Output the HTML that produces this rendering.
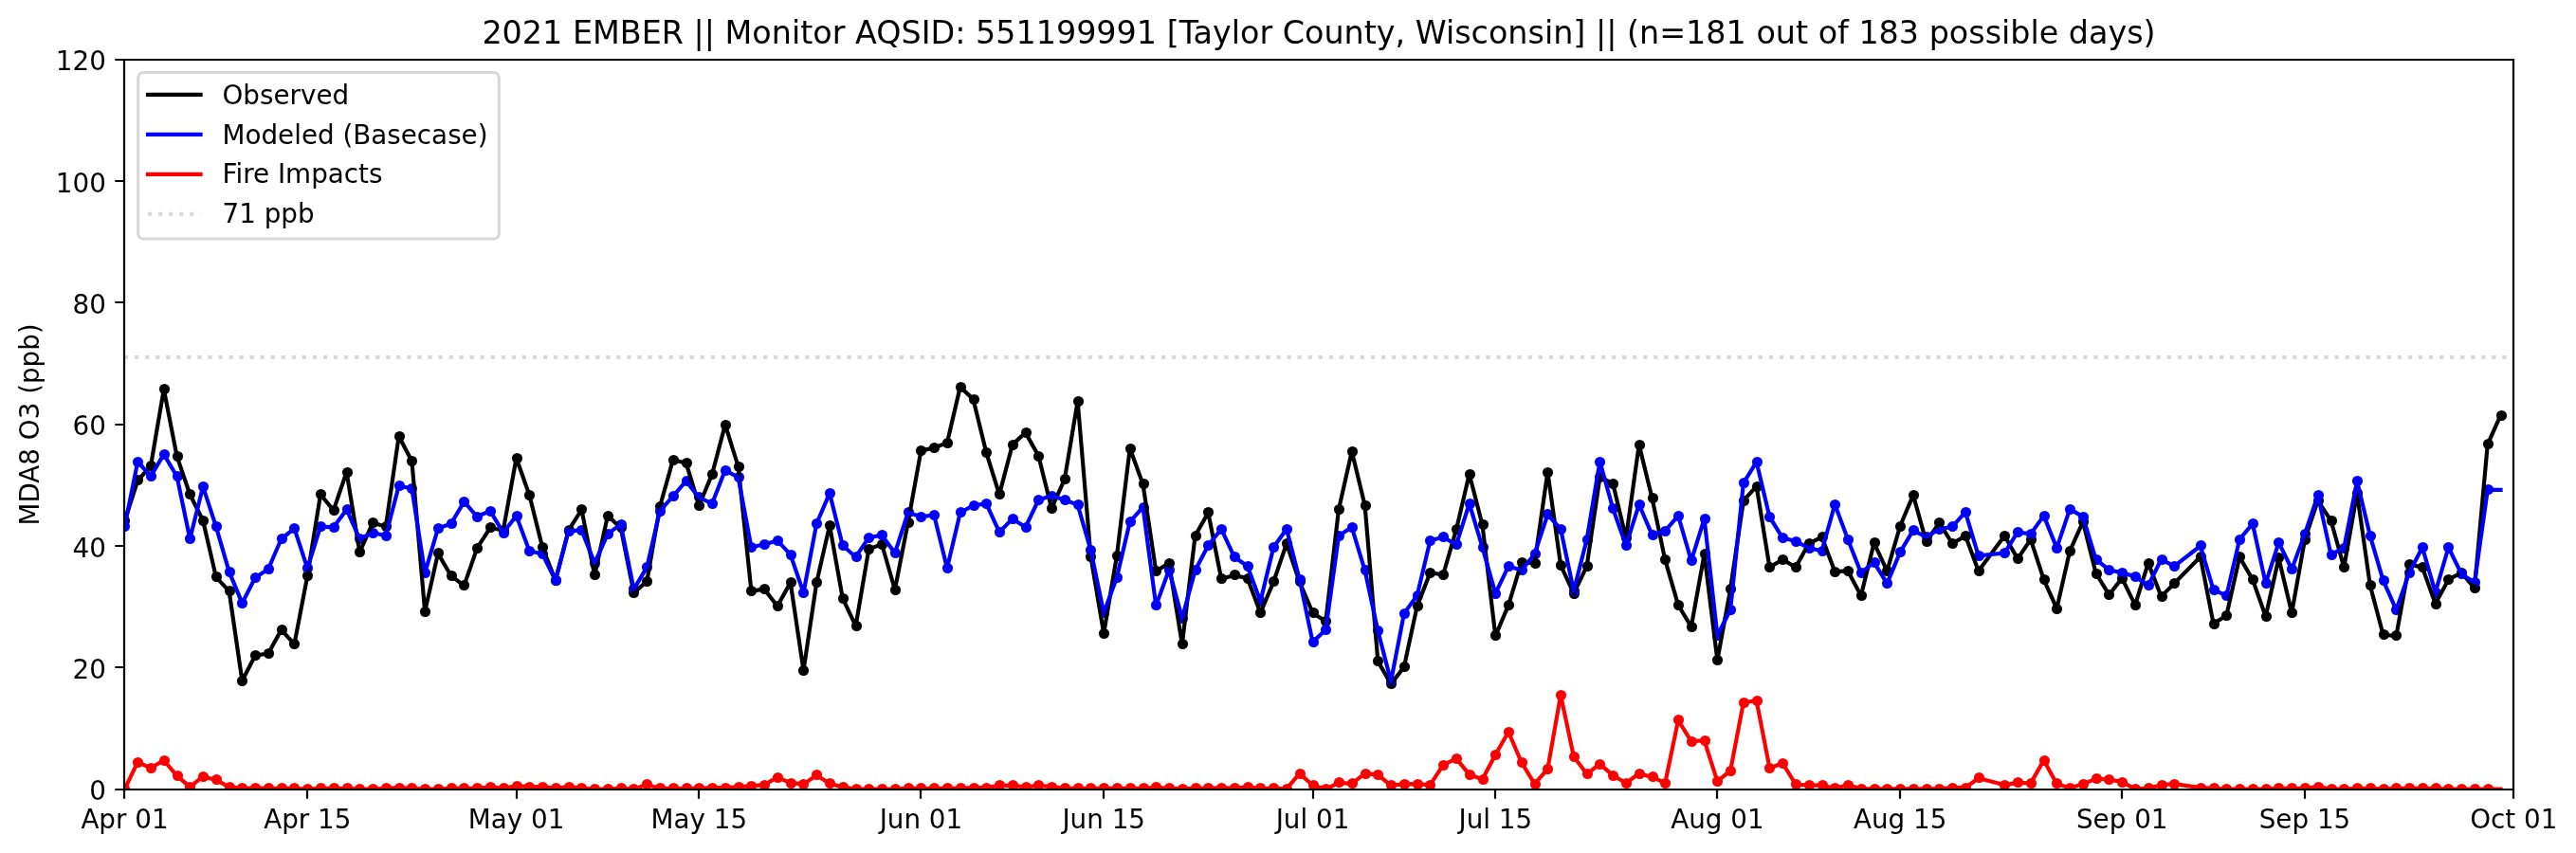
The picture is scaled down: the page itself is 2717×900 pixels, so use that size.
<!DOCTYPE html>
<html><head><meta charset="utf-8"><title>2021 EMBER Monitor 551199991</title>
<style>html,body{margin:0;padding:0;background:#fff;}svg{display:block;will-change:transform;}</style>
</head><body>
<svg width="2717" height="900" viewBox="0 0 2717 900">
<defs><clipPath id="c"><rect x="131" y="63" width="2520" height="770"/></clipPath></defs>
<rect width="2717" height="900" fill="#fff"/>
<g clip-path="url(#c)">
<g fill="#000">
<circle cx="131.5" cy="549.5" r="5.56"/><circle cx="145.5" cy="506.5" r="5.56"/><circle cx="159.5" cy="491.5" r="5.56"/><circle cx="173.5" cy="410.5" r="5.56"/><circle cx="187.5" cy="481.5" r="5.56"/><circle cx="200.5" cy="521.5" r="5.56"/><circle cx="214.5" cy="549.5" r="5.56"/><circle cx="228.5" cy="608.5" r="5.56"/><circle cx="242.5" cy="623.5" r="5.56"/><circle cx="255.5" cy="718.5" r="5.56"/><circle cx="269.5" cy="691.5" r="5.56"/><circle cx="283.5" cy="689.5" r="5.56"/><circle cx="297.5" cy="664.5" r="5.56"/><circle cx="310.5" cy="679.5" r="5.56"/><circle cx="324.5" cy="607.5" r="5.56"/><circle cx="338.5" cy="521.5" r="5.56"/><circle cx="352.5" cy="538.5" r="5.56"/><circle cx="366.5" cy="498.5" r="5.56"/><circle cx="379.5" cy="582.5" r="5.56"/><circle cx="393.5" cy="551.5" r="5.56"/><circle cx="407.5" cy="555.5" r="5.56"/><circle cx="421.5" cy="460.5" r="5.56"/><circle cx="434.5" cy="486.5" r="5.56"/><circle cx="448.5" cy="645.5" r="5.56"/><circle cx="462.5" cy="583.5" r="5.56"/><circle cx="476.5" cy="607.5" r="5.56"/><circle cx="489.5" cy="617.5" r="5.56"/><circle cx="503.5" cy="578.5" r="5.56"/><circle cx="517.5" cy="556.5" r="5.56"/><circle cx="531.5" cy="559.5" r="5.56"/><circle cx="545.5" cy="483.5" r="5.56"/><circle cx="558.5" cy="522.5" r="5.56"/><circle cx="572.5" cy="577.5" r="5.56"/><circle cx="586.5" cy="612.5" r="5.56"/><circle cx="600.5" cy="559.5" r="5.56"/><circle cx="613.5" cy="537.5" r="5.56"/><circle cx="627.5" cy="606.5" r="5.56"/><circle cx="641.5" cy="544.5" r="5.56"/><circle cx="655.5" cy="556.5" r="5.56"/><circle cx="668.5" cy="625.5" r="5.56"/><circle cx="682.5" cy="613.5" r="5.56"/><circle cx="696.5" cy="534.5" r="5.56"/><circle cx="710.5" cy="485.5" r="5.56"/><circle cx="724.5" cy="488.5" r="5.56"/><circle cx="737.5" cy="533.5" r="5.56"/><circle cx="751.5" cy="500.5" r="5.56"/><circle cx="765.5" cy="448.5" r="5.56"/><circle cx="779.5" cy="492.5" r="5.56"/><circle cx="792.5" cy="623.5" r="5.56"/><circle cx="806.5" cy="621.5" r="5.56"/><circle cx="820.5" cy="639.5" r="5.56"/><circle cx="834.5" cy="614.5" r="5.56"/><circle cx="847.5" cy="707.5" r="5.56"/><circle cx="861.5" cy="614.5" r="5.56"/><circle cx="875.5" cy="554.5" r="5.56"/><circle cx="889.5" cy="631.5" r="5.56"/><circle cx="903.5" cy="660.5" r="5.56"/><circle cx="916.5" cy="579.5" r="5.56"/><circle cx="930.5" cy="574.5" r="5.56"/><circle cx="944.5" cy="622.5" r="5.56"/><circle cx="958.5" cy="551.5" r="5.56"/><circle cx="971.5" cy="475.5" r="5.56"/><circle cx="985.5" cy="472.5" r="5.56"/><circle cx="999.5" cy="467.5" r="5.56"/><circle cx="1013.5" cy="408.5" r="5.56"/><circle cx="1027.5" cy="421.5" r="5.56"/><circle cx="1040.5" cy="477.5" r="5.56"/><circle cx="1054.5" cy="521.5" r="5.56"/><circle cx="1068.5" cy="469.5" r="5.56"/><circle cx="1082.5" cy="456.5" r="5.56"/><circle cx="1095.5" cy="481.5" r="5.56"/><circle cx="1109.5" cy="536.5" r="5.56"/><circle cx="1123.5" cy="505.5" r="5.56"/><circle cx="1137.5" cy="423.5" r="5.56"/><circle cx="1150.5" cy="587.5" r="5.56"/><circle cx="1164.5" cy="668.5" r="5.56"/><circle cx="1178.5" cy="586.5" r="5.56"/><circle cx="1192.5" cy="473.5" r="5.56"/><circle cx="1206.5" cy="510.5" r="5.56"/><circle cx="1219.5" cy="602.5" r="5.56"/><circle cx="1233.5" cy="594.5" r="5.56"/><circle cx="1247.5" cy="679.5" r="5.56"/><circle cx="1261.5" cy="565.5" r="5.56"/><circle cx="1274.5" cy="540.5" r="5.56"/><circle cx="1288.5" cy="610.5" r="5.56"/><circle cx="1302.5" cy="606.5" r="5.56"/><circle cx="1316.5" cy="610.5" r="5.56"/><circle cx="1329.5" cy="646.5" r="5.56"/><circle cx="1343.5" cy="613.5" r="5.56"/><circle cx="1357.5" cy="573.5" r="5.56"/><circle cx="1371.5" cy="613.5" r="5.56"/><circle cx="1385.5" cy="646.5" r="5.56"/><circle cx="1398.5" cy="655.5" r="5.56"/><circle cx="1412.5" cy="537.5" r="5.56"/><circle cx="1426.5" cy="476.5" r="5.56"/><circle cx="1440.5" cy="533.5" r="5.56"/><circle cx="1453.5" cy="697.5" r="5.56"/><circle cx="1467.5" cy="721.5" r="5.56"/><circle cx="1481.5" cy="703.5" r="5.56"/><circle cx="1495.5" cy="639.5" r="5.56"/><circle cx="1508.5" cy="604.5" r="5.56"/><circle cx="1522.5" cy="606.5" r="5.56"/><circle cx="1536.5" cy="558.5" r="5.56"/><circle cx="1550.5" cy="500.5" r="5.56"/><circle cx="1564.5" cy="553.5" r="5.56"/><circle cx="1577.5" cy="670.5" r="5.56"/><circle cx="1591.5" cy="638.5" r="5.56"/><circle cx="1605.5" cy="593.5" r="5.56"/><circle cx="1619.5" cy="594.5" r="5.56"/><circle cx="1632.5" cy="498.5" r="5.56"/><circle cx="1646.5" cy="596.5" r="5.56"/><circle cx="1660.5" cy="626.5" r="5.56"/><circle cx="1674.5" cy="597.5" r="5.56"/><circle cx="1687.5" cy="503.5" r="5.56"/><circle cx="1701.5" cy="510.5" r="5.56"/><circle cx="1715.5" cy="567.5" r="5.56"/><circle cx="1729.5" cy="469.5" r="5.56"/><circle cx="1743.5" cy="525.5" r="5.56"/><circle cx="1756.5" cy="590.5" r="5.56"/><circle cx="1770.5" cy="638.5" r="5.56"/><circle cx="1784.5" cy="661.5" r="5.56"/><circle cx="1798.5" cy="584.5" r="5.56"/><circle cx="1811.5" cy="696.5" r="5.56"/><circle cx="1825.5" cy="621.5" r="5.56"/><circle cx="1839.5" cy="528.5" r="5.56"/><circle cx="1853.5" cy="513.5" r="5.56"/><circle cx="1866.5" cy="598.5" r="5.56"/><circle cx="1880.5" cy="590.5" r="5.56"/><circle cx="1894.5" cy="598.5" r="5.56"/><circle cx="1908.5" cy="573.5" r="5.56"/><circle cx="1922.5" cy="566.5" r="5.56"/><circle cx="1935.5" cy="603.5" r="5.56"/><circle cx="1949.5" cy="602.5" r="5.56"/><circle cx="1963.5" cy="628.5" r="5.56"/><circle cx="1977.5" cy="572.5" r="5.56"/><circle cx="1990.5" cy="602.5" r="5.56"/><circle cx="2004.5" cy="555.5" r="5.56"/><circle cx="2018.5" cy="522.5" r="5.56"/><circle cx="2032.5" cy="571.5" r="5.56"/><circle cx="2045.5" cy="551.5" r="5.56"/><circle cx="2059.5" cy="573.5" r="5.56"/><circle cx="2073.5" cy="565.5" r="5.56"/><circle cx="2087.5" cy="602.5" r="5.56"/><circle cx="2114.5" cy="565.5" r="5.56"/><circle cx="2128.5" cy="589.5" r="5.56"/><circle cx="2142.5" cy="569.5" r="5.56"/><circle cx="2156.5" cy="611.5" r="5.56"/><circle cx="2169.5" cy="642.5" r="5.56"/><circle cx="2183.5" cy="581.5" r="5.56"/><circle cx="2197.5" cy="550.5" r="5.56"/><circle cx="2211.5" cy="605.5" r="5.56"/><circle cx="2224.5" cy="627.5" r="5.56"/><circle cx="2238.5" cy="610.5" r="5.56"/><circle cx="2252.5" cy="638.5" r="5.56"/><circle cx="2266.5" cy="594.5" r="5.56"/><circle cx="2280.5" cy="629.5" r="5.56"/><circle cx="2293.5" cy="615.5" r="5.56"/><circle cx="2321.5" cy="587.5" r="5.56"/><circle cx="2335.5" cy="658.5" r="5.56"/><circle cx="2348.5" cy="649.5" r="5.56"/><circle cx="2362.5" cy="587.5" r="5.56"/><circle cx="2376.5" cy="611.5" r="5.56"/><circle cx="2390.5" cy="650.5" r="5.56"/><circle cx="2403.5" cy="588.5" r="5.56"/><circle cx="2417.5" cy="646.5" r="5.56"/><circle cx="2431.5" cy="569.5" r="5.56"/><circle cx="2445.5" cy="528.5" r="5.56"/><circle cx="2459.5" cy="549.5" r="5.56"/><circle cx="2472.5" cy="598.5" r="5.56"/><circle cx="2486.5" cy="520.5" r="5.56"/><circle cx="2500.5" cy="617.5" r="5.56"/><circle cx="2514.5" cy="669.5" r="5.56"/><circle cx="2527.5" cy="670.5" r="5.56"/><circle cx="2541.5" cy="595.5" r="5.56"/><circle cx="2555.5" cy="598.5" r="5.56"/><circle cx="2569.5" cy="637.5" r="5.56"/><circle cx="2582.5" cy="611.5" r="5.56"/><circle cx="2596.5" cy="604.5" r="5.56"/><circle cx="2610.5" cy="620.5" r="5.56"/><circle cx="2624.5" cy="468.5" r="5.56"/><circle cx="2638.5" cy="438.5" r="5.56"/>
</g>
<g fill="#00f">
<circle cx="131.5" cy="555.5" r="5.56"/><circle cx="145.5" cy="487.5" r="5.56"/><circle cx="159.5" cy="502.5" r="5.56"/><circle cx="173.5" cy="479.5" r="5.56"/><circle cx="187.5" cy="502.5" r="5.56"/><circle cx="200.5" cy="568.5" r="5.56"/><circle cx="214.5" cy="513.5" r="5.56"/><circle cx="228.5" cy="555.5" r="5.56"/><circle cx="242.5" cy="603.5" r="5.56"/><circle cx="255.5" cy="636.5" r="5.56"/><circle cx="269.5" cy="609.5" r="5.56"/><circle cx="283.5" cy="600.5" r="5.56"/><circle cx="297.5" cy="568.5" r="5.56"/><circle cx="310.5" cy="557.5" r="5.56"/><circle cx="324.5" cy="599.5" r="5.56"/><circle cx="338.5" cy="555.5" r="5.56"/><circle cx="352.5" cy="556.5" r="5.56"/><circle cx="366.5" cy="537.5" r="5.56"/><circle cx="379.5" cy="568.5" r="5.56"/><circle cx="393.5" cy="562.5" r="5.56"/><circle cx="407.5" cy="565.5" r="5.56"/><circle cx="421.5" cy="512.5" r="5.56"/><circle cx="434.5" cy="515.5" r="5.56"/><circle cx="448.5" cy="604.5" r="5.56"/><circle cx="462.5" cy="557.5" r="5.56"/><circle cx="476.5" cy="552.5" r="5.56"/><circle cx="489.5" cy="529.5" r="5.56"/><circle cx="503.5" cy="545.5" r="5.56"/><circle cx="517.5" cy="539.5" r="5.56"/><circle cx="531.5" cy="562.5" r="5.56"/><circle cx="545.5" cy="544.5" r="5.56"/><circle cx="558.5" cy="581.5" r="5.56"/><circle cx="572.5" cy="584.5" r="5.56"/><circle cx="586.5" cy="612.5" r="5.56"/><circle cx="600.5" cy="560.5" r="5.56"/><circle cx="613.5" cy="559.5" r="5.56"/><circle cx="627.5" cy="594.5" r="5.56"/><circle cx="641.5" cy="563.5" r="5.56"/><circle cx="655.5" cy="553.5" r="5.56"/><circle cx="668.5" cy="621.5" r="5.56"/><circle cx="682.5" cy="598.5" r="5.56"/><circle cx="696.5" cy="539.5" r="5.56"/><circle cx="710.5" cy="523.5" r="5.56"/><circle cx="724.5" cy="507.5" r="5.56"/><circle cx="737.5" cy="524.5" r="5.56"/><circle cx="751.5" cy="531.5" r="5.56"/><circle cx="765.5" cy="496.5" r="5.56"/><circle cx="779.5" cy="503.5" r="5.56"/><circle cx="792.5" cy="577.5" r="5.56"/><circle cx="806.5" cy="574.5" r="5.56"/><circle cx="820.5" cy="570.5" r="5.56"/><circle cx="834.5" cy="585.5" r="5.56"/><circle cx="847.5" cy="625.5" r="5.56"/><circle cx="861.5" cy="552.5" r="5.56"/><circle cx="875.5" cy="520.5" r="5.56"/><circle cx="889.5" cy="575.5" r="5.56"/><circle cx="903.5" cy="587.5" r="5.56"/><circle cx="916.5" cy="567.5" r="5.56"/><circle cx="930.5" cy="564.5" r="5.56"/><circle cx="944.5" cy="583.5" r="5.56"/><circle cx="958.5" cy="540.5" r="5.56"/><circle cx="971.5" cy="545.5" r="5.56"/><circle cx="985.5" cy="543.5" r="5.56"/><circle cx="999.5" cy="599.5" r="5.56"/><circle cx="1013.5" cy="540.5" r="5.56"/><circle cx="1027.5" cy="533.5" r="5.56"/><circle cx="1040.5" cy="531.5" r="5.56"/><circle cx="1054.5" cy="561.5" r="5.56"/><circle cx="1068.5" cy="547.5" r="5.56"/><circle cx="1082.5" cy="556.5" r="5.56"/><circle cx="1095.5" cy="527.5" r="5.56"/><circle cx="1109.5" cy="523.5" r="5.56"/><circle cx="1123.5" cy="527.5" r="5.56"/><circle cx="1137.5" cy="532.5" r="5.56"/><circle cx="1150.5" cy="580.5" r="5.56"/><circle cx="1164.5" cy="646.5" r="5.56"/><circle cx="1178.5" cy="609.5" r="5.56"/><circle cx="1192.5" cy="550.5" r="5.56"/><circle cx="1206.5" cy="535.5" r="5.56"/><circle cx="1219.5" cy="638.5" r="5.56"/><circle cx="1233.5" cy="601.5" r="5.56"/><circle cx="1247.5" cy="652.5" r="5.56"/><circle cx="1261.5" cy="601.5" r="5.56"/><circle cx="1274.5" cy="575.5" r="5.56"/><circle cx="1288.5" cy="558.5" r="5.56"/><circle cx="1302.5" cy="587.5" r="5.56"/><circle cx="1316.5" cy="597.5" r="5.56"/><circle cx="1329.5" cy="634.5" r="5.56"/><circle cx="1343.5" cy="577.5" r="5.56"/><circle cx="1357.5" cy="558.5" r="5.56"/><circle cx="1371.5" cy="611.5" r="5.56"/><circle cx="1385.5" cy="677.5" r="5.56"/><circle cx="1398.5" cy="664.5" r="5.56"/><circle cx="1412.5" cy="565.5" r="5.56"/><circle cx="1426.5" cy="556.5" r="5.56"/><circle cx="1440.5" cy="601.5" r="5.56"/><circle cx="1453.5" cy="665.5" r="5.56"/><circle cx="1467.5" cy="718.5" r="5.56"/><circle cx="1481.5" cy="647.5" r="5.56"/><circle cx="1495.5" cy="628.5" r="5.56"/><circle cx="1508.5" cy="570.5" r="5.56"/><circle cx="1522.5" cy="566.5" r="5.56"/><circle cx="1536.5" cy="574.5" r="5.56"/><circle cx="1550.5" cy="531.5" r="5.56"/><circle cx="1564.5" cy="577.5" r="5.56"/><circle cx="1577.5" cy="626.5" r="5.56"/><circle cx="1591.5" cy="597.5" r="5.56"/><circle cx="1605.5" cy="601.5" r="5.56"/><circle cx="1619.5" cy="584.5" r="5.56"/><circle cx="1632.5" cy="542.5" r="5.56"/><circle cx="1646.5" cy="558.5" r="5.56"/><circle cx="1660.5" cy="623.5" r="5.56"/><circle cx="1674.5" cy="569.5" r="5.56"/><circle cx="1687.5" cy="487.5" r="5.56"/><circle cx="1701.5" cy="536.5" r="5.56"/><circle cx="1715.5" cy="575.5" r="5.56"/><circle cx="1729.5" cy="532.5" r="5.56"/><circle cx="1743.5" cy="564.5" r="5.56"/><circle cx="1756.5" cy="560.5" r="5.56"/><circle cx="1770.5" cy="544.5" r="5.56"/><circle cx="1784.5" cy="591.5" r="5.56"/><circle cx="1798.5" cy="547.5" r="5.56"/><circle cx="1811.5" cy="670.5" r="5.56"/><circle cx="1825.5" cy="643.5" r="5.56"/><circle cx="1839.5" cy="509.5" r="5.56"/><circle cx="1853.5" cy="487.5" r="5.56"/><circle cx="1866.5" cy="545.5" r="5.56"/><circle cx="1880.5" cy="567.5" r="5.56"/><circle cx="1894.5" cy="571.5" r="5.56"/><circle cx="1908.5" cy="578.5" r="5.56"/><circle cx="1922.5" cy="581.5" r="5.56"/><circle cx="1935.5" cy="532.5" r="5.56"/><circle cx="1949.5" cy="569.5" r="5.56"/><circle cx="1963.5" cy="604.5" r="5.56"/><circle cx="1977.5" cy="593.5" r="5.56"/><circle cx="1990.5" cy="615.5" r="5.56"/><circle cx="2004.5" cy="582.5" r="5.56"/><circle cx="2018.5" cy="559.5" r="5.56"/><circle cx="2032.5" cy="566.5" r="5.56"/><circle cx="2045.5" cy="558.5" r="5.56"/><circle cx="2059.5" cy="555.5" r="5.56"/><circle cx="2073.5" cy="540.5" r="5.56"/><circle cx="2087.5" cy="586.5" r="5.56"/><circle cx="2114.5" cy="583.5" r="5.56"/><circle cx="2128.5" cy="561.5" r="5.56"/><circle cx="2142.5" cy="563.5" r="5.56"/><circle cx="2156.5" cy="544.5" r="5.56"/><circle cx="2169.5" cy="578.5" r="5.56"/><circle cx="2183.5" cy="537.5" r="5.56"/><circle cx="2197.5" cy="545.5" r="5.56"/><circle cx="2211.5" cy="590.5" r="5.56"/><circle cx="2224.5" cy="601.5" r="5.56"/><circle cx="2238.5" cy="604.5" r="5.56"/><circle cx="2252.5" cy="608.5" r="5.56"/><circle cx="2266.5" cy="617.5" r="5.56"/><circle cx="2280.5" cy="590.5" r="5.56"/><circle cx="2293.5" cy="597.5" r="5.56"/><circle cx="2321.5" cy="575.5" r="5.56"/><circle cx="2335.5" cy="622.5" r="5.56"/><circle cx="2348.5" cy="628.5" r="5.56"/><circle cx="2362.5" cy="569.5" r="5.56"/><circle cx="2376.5" cy="552.5" r="5.56"/><circle cx="2390.5" cy="615.5" r="5.56"/><circle cx="2403.5" cy="572.5" r="5.56"/><circle cx="2417.5" cy="600.5" r="5.56"/><circle cx="2431.5" cy="563.5" r="5.56"/><circle cx="2445.5" cy="522.5" r="5.56"/><circle cx="2459.5" cy="585.5" r="5.56"/><circle cx="2472.5" cy="578.5" r="5.56"/><circle cx="2486.5" cy="507.5" r="5.56"/><circle cx="2500.5" cy="565.5" r="5.56"/><circle cx="2514.5" cy="612.5" r="5.56"/><circle cx="2527.5" cy="643.5" r="5.56"/><circle cx="2541.5" cy="604.5" r="5.56"/><circle cx="2555.5" cy="577.5" r="5.56"/><circle cx="2569.5" cy="625.5" r="5.56"/><circle cx="2582.5" cy="577.5" r="5.56"/><circle cx="2596.5" cy="605.5" r="5.56"/><circle cx="2610.5" cy="614.5" r="5.56"/><circle cx="2624.5" cy="516.5" r="5.56"/>
</g>
<g fill="#f00">
<circle cx="131.5" cy="832.5" r="5.56"/><circle cx="145.5" cy="804.5" r="5.56"/><circle cx="159.5" cy="810.5" r="5.56"/><circle cx="173.5" cy="802.5" r="5.56"/><circle cx="187.5" cy="818.5" r="5.56"/><circle cx="200.5" cy="830.5" r="5.56"/><circle cx="214.5" cy="819.5" r="5.56"/><circle cx="228.5" cy="822.5" r="5.56"/><circle cx="242.5" cy="830.5" r="5.56"/><circle cx="255.5" cy="831.5" r="5.56"/><circle cx="269.5" cy="831.5" r="5.56"/><circle cx="283.5" cy="831.5" r="5.56"/><circle cx="297.5" cy="831.5" r="5.56"/><circle cx="310.5" cy="831.5" r="5.56"/><circle cx="324.5" cy="832.5" r="5.56"/><circle cx="338.5" cy="831.5" r="5.56"/><circle cx="352.5" cy="831.5" r="5.56"/><circle cx="366.5" cy="831.5" r="5.56"/><circle cx="379.5" cy="832.5" r="5.56"/><circle cx="393.5" cy="832.5" r="5.56"/><circle cx="407.5" cy="831.5" r="5.56"/><circle cx="421.5" cy="831.5" r="5.56"/><circle cx="434.5" cy="831.5" r="5.56"/><circle cx="448.5" cy="832.5" r="5.56"/><circle cx="462.5" cy="832.5" r="5.56"/><circle cx="476.5" cy="831.5" r="5.56"/><circle cx="489.5" cy="831.5" r="5.56"/><circle cx="503.5" cy="831.5" r="5.56"/><circle cx="517.5" cy="830.5" r="5.56"/><circle cx="531.5" cy="831.5" r="5.56"/><circle cx="545.5" cy="829.5" r="5.56"/><circle cx="558.5" cy="830.5" r="5.56"/><circle cx="572.5" cy="830.5" r="5.56"/><circle cx="586.5" cy="831.5" r="5.56"/><circle cx="600.5" cy="830.5" r="5.56"/><circle cx="613.5" cy="831.5" r="5.56"/><circle cx="627.5" cy="832.5" r="5.56"/><circle cx="641.5" cy="832.5" r="5.56"/><circle cx="655.5" cy="831.5" r="5.56"/><circle cx="668.5" cy="832.5" r="5.56"/><circle cx="682.5" cy="827.5" r="5.56"/><circle cx="696.5" cy="831.5" r="5.56"/><circle cx="710.5" cy="831.5" r="5.56"/><circle cx="724.5" cy="831.5" r="5.56"/><circle cx="737.5" cy="831.5" r="5.56"/><circle cx="751.5" cy="831.5" r="5.56"/><circle cx="765.5" cy="831.5" r="5.56"/><circle cx="779.5" cy="830.5" r="5.56"/><circle cx="792.5" cy="829.5" r="5.56"/><circle cx="806.5" cy="828.5" r="5.56"/><circle cx="820.5" cy="820.5" r="5.56"/><circle cx="834.5" cy="826.5" r="5.56"/><circle cx="847.5" cy="827.5" r="5.56"/><circle cx="861.5" cy="817.5" r="5.56"/><circle cx="875.5" cy="826.5" r="5.56"/><circle cx="889.5" cy="830.5" r="5.56"/><circle cx="903.5" cy="832.5" r="5.56"/><circle cx="916.5" cy="832.5" r="5.56"/><circle cx="930.5" cy="832.5" r="5.56"/><circle cx="944.5" cy="832.5" r="5.56"/><circle cx="958.5" cy="831.5" r="5.56"/><circle cx="971.5" cy="831.5" r="5.56"/><circle cx="985.5" cy="831.5" r="5.56"/><circle cx="999.5" cy="831.5" r="5.56"/><circle cx="1013.5" cy="831.5" r="5.56"/><circle cx="1027.5" cy="831.5" r="5.56"/><circle cx="1040.5" cy="831.5" r="5.56"/><circle cx="1054.5" cy="828.5" r="5.56"/><circle cx="1068.5" cy="828.5" r="5.56"/><circle cx="1082.5" cy="830.5" r="5.56"/><circle cx="1095.5" cy="828.5" r="5.56"/><circle cx="1109.5" cy="830.5" r="5.56"/><circle cx="1123.5" cy="831.5" r="5.56"/><circle cx="1137.5" cy="831.5" r="5.56"/><circle cx="1150.5" cy="831.5" r="5.56"/><circle cx="1164.5" cy="831.5" r="5.56"/><circle cx="1178.5" cy="831.5" r="5.56"/><circle cx="1192.5" cy="831.5" r="5.56"/><circle cx="1206.5" cy="831.5" r="5.56"/><circle cx="1219.5" cy="830.5" r="5.56"/><circle cx="1233.5" cy="831.5" r="5.56"/><circle cx="1247.5" cy="832.5" r="5.56"/><circle cx="1261.5" cy="831.5" r="5.56"/><circle cx="1274.5" cy="831.5" r="5.56"/><circle cx="1288.5" cy="831.5" r="5.56"/><circle cx="1302.5" cy="831.5" r="5.56"/><circle cx="1316.5" cy="830.5" r="5.56"/><circle cx="1329.5" cy="831.5" r="5.56"/><circle cx="1343.5" cy="831.5" r="5.56"/><circle cx="1357.5" cy="832.5" r="5.56"/><circle cx="1371.5" cy="816.5" r="5.56"/><circle cx="1385.5" cy="828.5" r="5.56"/><circle cx="1398.5" cy="832.5" r="5.56"/><circle cx="1412.5" cy="825.5" r="5.56"/><circle cx="1426.5" cy="826.5" r="5.56"/><circle cx="1440.5" cy="816.5" r="5.56"/><circle cx="1453.5" cy="817.5" r="5.56"/><circle cx="1467.5" cy="828.5" r="5.56"/><circle cx="1481.5" cy="827.5" r="5.56"/><circle cx="1495.5" cy="827.5" r="5.56"/><circle cx="1508.5" cy="828.5" r="5.56"/><circle cx="1522.5" cy="807.5" r="5.56"/><circle cx="1536.5" cy="800.5" r="5.56"/><circle cx="1550.5" cy="817.5" r="5.56"/><circle cx="1564.5" cy="822.5" r="5.56"/><circle cx="1577.5" cy="796.5" r="5.56"/><circle cx="1591.5" cy="772.5" r="5.56"/><circle cx="1605.5" cy="804.5" r="5.56"/><circle cx="1619.5" cy="827.5" r="5.56"/><circle cx="1632.5" cy="811.5" r="5.56"/><circle cx="1646.5" cy="733.5" r="5.56"/><circle cx="1660.5" cy="798.5" r="5.56"/><circle cx="1674.5" cy="816.5" r="5.56"/><circle cx="1687.5" cy="806.5" r="5.56"/><circle cx="1701.5" cy="818.5" r="5.56"/><circle cx="1715.5" cy="826.5" r="5.56"/><circle cx="1729.5" cy="816.5" r="5.56"/><circle cx="1743.5" cy="819.5" r="5.56"/><circle cx="1756.5" cy="826.5" r="5.56"/><circle cx="1770.5" cy="759.5" r="5.56"/><circle cx="1784.5" cy="782.5" r="5.56"/><circle cx="1798.5" cy="781.5" r="5.56"/><circle cx="1811.5" cy="824.5" r="5.56"/><circle cx="1825.5" cy="813.5" r="5.56"/><circle cx="1839.5" cy="741.5" r="5.56"/><circle cx="1853.5" cy="739.5" r="5.56"/><circle cx="1866.5" cy="810.5" r="5.56"/><circle cx="1880.5" cy="805.5" r="5.56"/><circle cx="1894.5" cy="827.5" r="5.56"/><circle cx="1908.5" cy="828.5" r="5.56"/><circle cx="1922.5" cy="828.5" r="5.56"/><circle cx="1935.5" cy="831.5" r="5.56"/><circle cx="1949.5" cy="828.5" r="5.56"/><circle cx="1963.5" cy="832.5" r="5.56"/><circle cx="1977.5" cy="832.5" r="5.56"/><circle cx="1990.5" cy="832.5" r="5.56"/><circle cx="2004.5" cy="832.5" r="5.56"/><circle cx="2018.5" cy="832.5" r="5.56"/><circle cx="2032.5" cy="832.5" r="5.56"/><circle cx="2045.5" cy="832.5" r="5.56"/><circle cx="2059.5" cy="831.5" r="5.56"/><circle cx="2073.5" cy="831.5" r="5.56"/><circle cx="2087.5" cy="820.5" r="5.56"/><circle cx="2114.5" cy="828.5" r="5.56"/><circle cx="2128.5" cy="825.5" r="5.56"/><circle cx="2142.5" cy="826.5" r="5.56"/><circle cx="2156.5" cy="802.5" r="5.56"/><circle cx="2169.5" cy="826.5" r="5.56"/><circle cx="2183.5" cy="831.5" r="5.56"/><circle cx="2197.5" cy="827.5" r="5.56"/><circle cx="2211.5" cy="821.5" r="5.56"/><circle cx="2224.5" cy="822.5" r="5.56"/><circle cx="2238.5" cy="825.5" r="5.56"/><circle cx="2252.5" cy="832.5" r="5.56"/><circle cx="2266.5" cy="831.5" r="5.56"/><circle cx="2280.5" cy="828.5" r="5.56"/><circle cx="2293.5" cy="827.5" r="5.56"/><circle cx="2321.5" cy="831.5" r="5.56"/><circle cx="2335.5" cy="831.5" r="5.56"/><circle cx="2348.5" cy="832.5" r="5.56"/><circle cx="2362.5" cy="832.5" r="5.56"/><circle cx="2376.5" cy="832.5" r="5.56"/><circle cx="2390.5" cy="832.5" r="5.56"/><circle cx="2403.5" cy="831.5" r="5.56"/><circle cx="2417.5" cy="831.5" r="5.56"/><circle cx="2431.5" cy="831.5" r="5.56"/><circle cx="2445.5" cy="830.5" r="5.56"/><circle cx="2459.5" cy="832.5" r="5.56"/><circle cx="2472.5" cy="832.5" r="5.56"/><circle cx="2486.5" cy="831.5" r="5.56"/><circle cx="2500.5" cy="831.5" r="5.56"/><circle cx="2514.5" cy="832.5" r="5.56"/><circle cx="2527.5" cy="831.5" r="5.56"/><circle cx="2541.5" cy="831.5" r="5.56"/><circle cx="2555.5" cy="831.5" r="5.56"/><circle cx="2569.5" cy="831.5" r="5.56"/><circle cx="2582.5" cy="832.5" r="5.56"/><circle cx="2596.5" cy="832.5" r="5.56"/><circle cx="2610.5" cy="832.5" r="5.56"/><circle cx="2624.5" cy="832.5" r="5.56"/>
</g>
<path d="M131.49 549.53 L145.25 506.99 L159.02 491.61 L172.79 410.57 L186.56 481.36 L200.33 521.72 L214.1 549.27 L227.87 608.85 L241.64 623.58 L255.41 718.4 L269.18 691.49 L282.95 689.57 L296.72 664.59 L310.49 679.64 L324.26 607.57 L338.03 521.72 L351.8 538.38 L365.57 498.02 L379.34 582.58 L393.11 551.51 L406.88 555.68 L420.64 460.22 L434.41 486.49 L448.18 645.37 L461.95 583.87 L475.72 607.57 L489.49 617.82 L503.26 578.1 L517.03 556.96 L530.8 559.52 L544.57 483.28 L558.34 522.36 L572.11 577.46 L585.88 612.37 L599.65 559.52 L613.42 537.74 L627.19 606.93 L640.96 544.15 L654.73 556.96 L668.5 625.51 L682.26 613.33 L696.03 534.54 L709.8 485.21 L723.57 488.41 L737.34 533.25 L751.11 500.26 L764.88 448.05 L778.65 492.25 L792.42 623.58 L806.19 621.66 L819.96 639.6 L833.73 614.62 L847.5 707.51 L861.27 614.62 L875.04 554.4 L888.81 631.27 L902.58 660.42 L916.35 579.38 L930.12 574.26 L943.89 622.3 L957.66 551.51 L971.42 475.6 L985.19 472.39 L998.96 467.27 L1012.73 408.33 L1026.5 421.14 L1040.27 477.52 L1054.04 521.72 L1067.81 469.19 L1081.58 456.38 L1095.35 481.04 L1109.12 536.46 L1122.89 505.71 L1136.66 423.38 L1150.43 587.07 L1164.2 668.43 L1177.97 586.43 L1191.74 473.03 L1205.51 510.83 L1219.28 602.76 L1233.05 594.12 L1246.81 679.64 L1260.58 565.29 L1274.35 540.94 L1288.12 610.77 L1301.89 606.93 L1315.66 610.13 L1329.43 646.65 L1343.2 613.98 L1356.97 573.61 L1370.74 613.98 L1384.51 646.65 L1398.28 655.62 L1412.05 537.1 L1425.82 476.24 L1439.59 533.25 L1453.36 697.9 L1467.13 721.64 L1480.9 703.67 L1494.67 639.6 L1508.43 604.37 L1522.2 606.29 L1535.97 558.88 L1549.74 500.26 L1563.51 553.75 L1577.28 670.99 L1591.05 638.32 L1604.82 593.15 L1618.59 594.12 L1632.36 498.02 L1646.13 596.36 L1659.9 626.15 L1673.67 597.32 L1687.44 503.46 L1701.21 510.19 L1714.98 567.85 L1728.75 469.19 L1742.52 525.57 L1756.29 590.91 L1770.06 638.32 L1783.83 661.38 L1797.59 584.51 L1811.36 696.62 L1825.13 621.66 L1838.9 528.13 L1852.67 513.07 L1866.44 598.6 L1880.21 590.27 L1893.98 598.6 L1907.75 573.61 L1921.52 566.57 L1935.29 603.08 L1949.06 602.44 L1962.83 628.39 L1976.6 572.97 L1990.37 602.44 L2004.14 555.04 L2017.91 522.36 L2031.68 571.69 L2045.45 551.51 L2059.22 573.61 L2072.98 565.29 L2086.75 602.44 L2114.29 565.29 L2128.06 589.63 L2141.83 569.13 L2155.6 611.41 L2169.37 642.16 L2183.14 581.3 L2196.91 550.55 L2210.68 605.01 L2224.45 627.43 L2238.22 610.13 L2251.99 638.32 L2265.76 594.12 L2279.53 629.35 L2293.3 615.58 L2320.84 587.53 L2334.61 658.18 L2348.37 649.21 L2362.14 587.71 L2375.91 611.41 L2389.68 650.49 L2403.45 588.99 L2417.22 646.65 L2430.99 569.13 L2444.76 528.13 L2458.53 549.27 L2472.3 598.6 L2486.07 520.44 L2499.84 617.82 L2513.61 669.71 L2527.38 670.99 L2541.15 595.4 L2554.92 598.6 L2568.69 637.04 L2582.46 611.41 L2596.23 604.37 L2610 620.38 L2623.76 468.82 L2637.53 438.02" fill="none" stroke="#000" stroke-width="4.17" stroke-linejoin="round" stroke-linecap="square"/>
<path d="M131.49 555.68 L145.25 487.13 L159.02 502.5 L172.79 479.44 L186.56 502.5 L200.33 568.49 L214.1 513.39 L227.87 555.68 L241.64 603.08 L255.41 636.4 L269.18 609.49 L282.95 600.52 L296.72 568.49 L310.49 557.6 L324.26 599.56 L338.03 555.68 L351.8 556.32 L365.57 537.74 L379.34 568.49 L393.11 562.08 L406.88 565.29 L420.64 512.75 L434.41 515.32 L448.18 604.37 L461.95 557.6 L475.72 552.47 L489.49 529.41 L503.26 545.11 L517.03 539.02 L530.8 562.08 L544.57 544.15 L558.34 581.3 L572.11 584.51 L585.88 612.37 L599.65 560.16 L613.42 559.52 L627.19 594.12 L640.96 563.36 L654.73 553.11 L668.5 621.66 L682.26 598.6 L696.03 539.02 L709.8 523.64 L723.57 507.63 L737.34 524.93 L751.11 531.33 L764.88 496.1 L778.65 503.78 L792.42 577.46 L806.19 574.26 L819.96 570.41 L833.73 585.15 L847.5 625.51 L861.27 552.47 L875.04 520.44 L888.81 575.54 L902.58 587.71 L916.35 567.21 L930.12 564.65 L943.89 583.54 L957.66 540.94 L971.42 545.11 L985.19 543.5 L998.96 599.56 L1012.73 540.94 L1026.5 533.25 L1040.27 531.33 L1054.04 561.44 L1067.81 547.35 L1081.58 556.32 L1095.35 527.49 L1109.12 523 L1122.89 527.49 L1136.66 532.61 L1150.43 580.34 L1164.2 646.65 L1177.97 609.17 L1191.74 550.55 L1205.51 535.18 L1219.28 638.96 L1233.05 601.16 L1246.81 652.41 L1260.58 601.8 L1274.35 575.54 L1288.12 558.24 L1301.89 587.71 L1315.66 597.32 L1329.43 634.48 L1343.2 577.46 L1356.97 558.24 L1370.74 611.41 L1384.51 677.4 L1398.28 664.59 L1412.05 565.29 L1425.82 556.32 L1439.59 601.8 L1453.36 665.87 L1467.13 718.75 L1480.9 647.29 L1494.67 628.39 L1508.43 570.41 L1522.2 566.57 L1535.97 574.9 L1549.74 531.33 L1563.51 577.46 L1577.28 626.15 L1591.05 597.32 L1604.82 601.8 L1618.59 584.51 L1632.36 542.86 L1646.13 558.24 L1659.9 623.58 L1673.67 569.13 L1687.44 487.13 L1701.21 536.46 L1714.98 575.54 L1728.75 532.29 L1742.52 564.33 L1756.29 560.16 L1770.06 544.15 L1783.83 591.55 L1797.59 547.35 L1811.36 670.35 L1825.13 643.44 L1838.9 509.55 L1852.67 487.45 L1866.44 545.43 L1880.21 567.53 L1893.98 571.05 L1907.75 578.1 L1921.52 581.3 L1935.29 532.29 L1949.06 569.13 L1962.83 604.37 L1976.6 593.47 L1990.37 615.58 L2004.14 582.58 L2017.91 559.52 L2031.68 566.57 L2045.45 558.24 L2059.22 555.68 L2072.98 540.3 L2086.75 586.43 L2114.29 583.54 L2128.06 561.44 L2141.83 563.36 L2155.6 544.15 L2169.37 578.1 L2183.14 537.1 L2196.91 545.11 L2210.68 590.27 L2224.45 601.16 L2238.22 604.37 L2251.99 608.21 L2265.76 617.82 L2279.53 590.27 L2293.3 597.32 L2320.84 575.98 L2334.61 622.3 L2348.37 628.39 L2362.14 569.13 L2375.91 552.47 L2389.68 615.58 L2403.45 572.33 L2417.22 600.52 L2430.99 563.36 L2444.76 522.36 L2458.53 585.15 L2472.3 578.1 L2486.07 507.63 L2499.84 565.29 L2513.61 612.37 L2527.38 643.44 L2541.15 604.37 L2554.92 577.46 L2568.69 625.19 L2582.46 577.46 L2596.23 605.65 L2610 614.62 L2623.76 516.95 L2637.53 516.95" fill="none" stroke="#00f" stroke-width="4.17" stroke-linejoin="round" stroke-linecap="square"/>
<path d="M131.49 832.65 L145.25 804.16 L159.02 810.32 L172.79 802.23 L186.56 818.4 L200.33 830.4 L214.1 819.17 L227.87 822.9 L241.64 830.4 L255.41 831.88 L269.18 831.37 L282.95 831.88 L296.72 831.88 L310.49 831.88 L324.26 832.65 L338.03 831.88 L351.8 831.88 L365.57 831.88 L379.34 832.65 L393.11 832.65 L406.88 831.88 L420.64 831.17 L434.41 831.88 L448.18 832.65 L461.95 832.65 L475.72 831.88 L489.49 831.88 L503.26 831.88 L517.03 830.4 L530.8 831.88 L544.57 829.18 L558.34 830.08 L572.11 830.08 L585.88 831.88 L599.65 830.08 L613.42 831.62 L627.19 832.65 L640.96 832.65 L654.73 831.88 L668.5 832.65 L682.26 827.84 L696.03 831.88 L709.8 831.88 L723.57 831.88 L737.34 831.88 L751.11 831.17 L764.88 831.17 L778.65 830.4 L792.42 829.18 L806.19 828.16 L819.96 820.07 L833.73 826.04 L847.5 827.39 L861.27 817.96 L875.04 826.68 L888.81 830.4 L902.58 832.65 L916.35 832.65 L930.12 832.65 L943.89 832.65 L957.66 831.88 L971.42 831.88 L985.19 831.88 L998.96 831.88 L1012.73 831.88 L1026.5 831.17 L1040.27 831.17 L1054.04 828.93 L1067.81 828.93 L1081.58 830.4 L1095.35 828.93 L1109.12 830.08 L1122.89 831.88 L1136.66 831.88 L1150.43 831.88 L1164.2 831.88 L1177.97 831.88 L1191.74 831.88 L1205.51 831.88 L1219.28 830.85 L1233.05 831.88 L1246.81 832.33 L1260.58 831.88 L1274.35 831.88 L1288.12 831.17 L1301.89 831.88 L1315.66 830.4 L1329.43 831.88 L1343.2 831.88 L1356.97 832.33 L1370.74 816.16 L1384.51 828.48 L1398.28 832.65 L1412.05 825.91 L1425.82 826.94 L1439.59 816.16 L1453.36 817.38 L1467.13 828.93 L1480.9 827.13 L1494.67 827.39 L1508.43 828.16 L1522.2 807.18 L1535.97 800.44 L1549.74 817.19 L1563.51 822.19 L1577.28 796.27 L1591.05 772.27 L1604.82 804.48 L1618.59 827.13 L1632.36 811.35 L1646.13 733.32 L1659.9 798.51 L1673.67 816.48 L1687.44 806.15 L1701.21 818.08 L1714.98 826.23 L1728.75 816.16 L1742.52 819.88 L1756.29 826.23 L1770.06 759.95 L1783.83 782.15 L1797.59 781.25 L1811.36 824.44 L1825.13 813.14 L1838.9 741.21 L1852.67 739.29 L1866.44 810.45 L1880.21 805.25 L1893.98 827.71 L1907.75 828.61 L1921.52 828.61 L1935.29 831.88 L1949.06 828.16 L1962.83 832.33 L1976.6 832.33 L1990.37 832.33 L2004.14 832.33 L2017.91 832.33 L2031.68 832.33 L2045.45 832.33 L2059.22 831.17 L2072.98 831.17 L2086.75 820.97 L2114.29 828.16 L2128.06 825.91 L2141.83 826.36 L2155.6 802.23 L2169.37 826.94 L2183.14 831.37 L2196.91 827.13 L2210.68 821.87 L2224.45 822.19 L2238.22 825.14 L2251.99 832.33 L2265.76 831.88 L2279.53 828.16 L2293.3 827.13 L2320.84 831.17 L2334.61 831.88 L2348.37 832.65 L2362.14 832.65 L2375.91 832.65 L2389.68 832.65 L2403.45 831.88 L2417.22 831.88 L2430.99 831.88 L2444.76 830.08 L2458.53 832.65 L2472.3 832.65 L2486.07 831.88 L2499.84 831.88 L2513.61 832.65 L2527.38 831.88 L2541.15 831.88 L2554.92 831.88 L2568.69 831.88 L2582.46 832.65 L2596.23 832.65 L2610 832.65 L2623.76 832.65 L2637.53 832.65" fill="none" stroke="#f00" stroke-width="4.17" stroke-linejoin="round" stroke-linecap="square"/>
<path d="M131 377 H2651" stroke="#d8d8d8" stroke-width="4.17" stroke-dasharray="4.17 6.88" fill="none"/>
</g>
<path d="M131 833 V63 H2651 V833 Z" fill="none" stroke="#000" stroke-width="2.22" stroke-linejoin="miter" stroke-linecap="square"/>
<path d="M131 833 v9.72M324 833 v9.72M545 833 v9.72M737 833 v9.72M971 833 v9.72M1164 833 v9.72M1385 833 v9.72M1577 833 v9.72M1811 833 v9.72M2004 833 v9.72M2238 833 v9.72M2431 833 v9.72M2651 833 v9.72M131 833 h-9.72M131 704 h-9.72M131 576 h-9.72M131 448 h-9.72M131 319 h-9.72M131 191 h-9.72M131 63 h-9.72" stroke="#000" stroke-width="2.22" fill="none"/>
<g style="font-size:27.78px;font-family:'DejaVu Sans','Liberation Sans',sans-serif" fill="#000">
<text x="131.49" y="874.45" text-anchor="middle">Apr 01</text>
<text x="324.26" y="874.45" text-anchor="middle">Apr 15</text>
<text x="544.57" y="874.45" text-anchor="middle">May 01</text>
<text x="737.34" y="874.45" text-anchor="middle">May 15</text>
<text x="971.42" y="874.45" text-anchor="middle">Jun 01</text>
<text x="1164.2" y="874.45" text-anchor="middle">Jun 15</text>
<text x="1384.51" y="874.45" text-anchor="middle">Jul 01</text>
<text x="1577.28" y="874.45" text-anchor="middle">Jul 15</text>
<text x="1811.36" y="874.45" text-anchor="middle">Aug 01</text>
<text x="2004.14" y="874.45" text-anchor="middle">Aug 15</text>
<text x="2238.22" y="874.45" text-anchor="middle">Sep 01</text>
<text x="2430.99" y="874.45" text-anchor="middle">Sep 15</text>
<text x="2651.3" y="874.45" text-anchor="middle">Oct 01</text>
<text x="111.86" y="844.2" text-anchor="end">0</text>
<text x="111.86" y="715.87" text-anchor="end">20</text>
<text x="111.86" y="587.53" text-anchor="end">40</text>
<text x="111.86" y="459.2" text-anchor="end">60</text>
<text x="111.86" y="330.86" text-anchor="end">80</text>
<text x="111.86" y="202.53" text-anchor="end">100</text>
<text x="111.86" y="74.2" text-anchor="end">120</text>
<text x="40.65" y="447.95" text-anchor="middle" transform="rotate(-90 40.65 447.95)">MDA8 O3 (ppb)</text>
</g>
<text x="1391" y="46.33" text-anchor="middle" style="font-size:33.37px;font-family:'DejaVu Sans','Liberation Sans',sans-serif" fill="#000">2021 EMBER || Monitor AQSID: 551199991 [Taylor County, Wisconsin] || (n=181 out of 183 possible days)</text>
<rect x="145.6" y="76.5" width="380.8" height="175.5" rx="5.56" ry="5.56" fill="#fff" stroke="#ccc" stroke-width="2.78" opacity="0.8"/>
<path d="M156 99.9 H211.56" stroke="#000" stroke-width="4.17" stroke-linecap="square"/>
<text x="234.53" y="109.9" style="font-size:27.78px;font-family:'DejaVu Sans','Liberation Sans',sans-serif" fill="#000">Observed</text>
<path d="M156 141.85 H211.56" stroke="#00f" stroke-width="4.17" stroke-linecap="square"/>
<text x="234.53" y="151.8" style="font-size:27.78px;font-family:'DejaVu Sans','Liberation Sans',sans-serif" fill="#000">Modeled (Basecase)</text>
<path d="M156 183.8 H211.56" stroke="#f00" stroke-width="4.17" stroke-linecap="square"/>
<text x="234.53" y="193" style="font-size:27.78px;font-family:'DejaVu Sans','Liberation Sans',sans-serif" fill="#000">Fire Impacts</text>
<path d="M156 225.75 H211.56" stroke="#d8d8d8" stroke-width="4.17" stroke-dasharray="4.17 6.88"/>
<text x="234.53" y="234.9" style="font-size:27.78px;font-family:'DejaVu Sans','Liberation Sans',sans-serif" fill="#000">71 ppb</text>
</svg>
</body></html>
